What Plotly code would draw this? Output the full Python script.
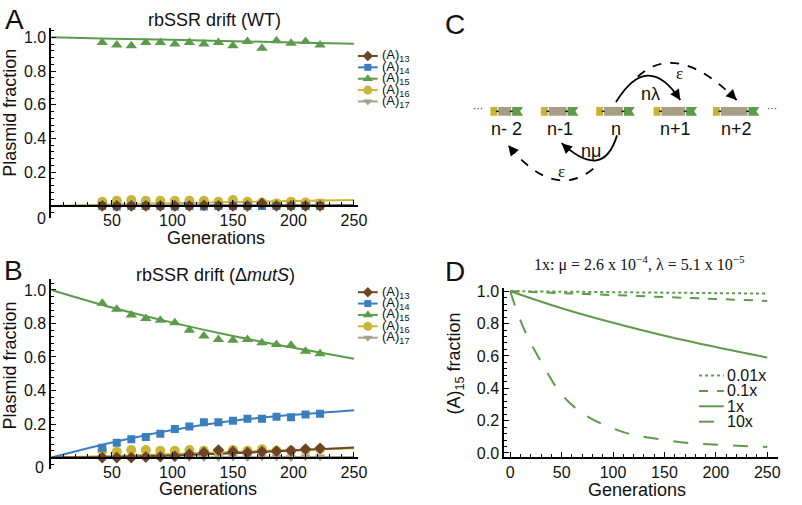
import plotly.graph_objects as go

W, H = 802, 505
SANS = "Liberation Sans, Arial, Helvetica, sans-serif"
SERIF = "Liberation Serif, Times New Roman, serif"

# ---------------- data ----------------
series_names = ["(A)<sub>13</sub>", "(A)<sub>14</sub>", "(A)<sub>15</sub>", "(A)<sub>16</sub>", "(A)<sub>17</sub>"]
gens = [42, 54, 66, 78, 90, 102, 114, 126, 138, 150, 162, 174, 186, 198, 210, 222]
fit_x = [0, 50, 100, 150, 200, 250]

# Panel A: WT
wt_a13 = [0.0, 0.0, 0.0, 0.0, 0.0, 0.0, 0.0, 0.004, 0.0, 0.0, 0.0, 0.015, 0.0, 0.0, 0.0, 0.0]
wt_a14 = [0.0, -0.003, 0.0, 0.0, 0.0, -0.003, 0.0, -0.003, 0.0, 0.0, 0.0, 0.0, 0.0, 0.0, 0.0, 0.0]
wt_a15 = [0.97, 0.955, 0.95, 0.97, 0.97, 0.96, 0.97, 0.96, 0.97, 0.95, 0.975, 0.935, 0.98, 0.965, 0.975, 0.955]
wt_a16 = [0.025, 0.03, 0.035, 0.03, 0.03, 0.03, 0.03, 0.03, 0.025, 0.035, 0.025, 0.02, 0.015, 0.025, 0.02, 0.015]
wt_a17 = [0.0, 0.0, 0.0, 0.0, 0.0, 0.0, 0.0, 0.0, 0.0, 0.0, 0.0, 0.0, 0.0, 0.0, 0.0, 0.025]
wt_fit13 = [0.0, 0.0, 0.0, 0.001, 0.002, 0.003]
wt_fit14 = [0.0, 0.001, 0.002, 0.002, 0.003, 0.003]
wt_fit15 = [1.0, 0.992, 0.985, 0.977, 0.970, 0.962]
wt_fit16 = [0.0, 0.008, 0.016, 0.023, 0.029, 0.035]
wt_fit17 = [0.0, 0.0, 0.001, 0.001, 0.001, 0.002]

# Panel B: delta mutS
mu_a13 = [0.0, 0.0, 0.0, 0.003, 0.005, 0.008, 0.02, 0.03, 0.045, 0.035, 0.03, 0.035, 0.038, 0.042, 0.05, 0.055]
mu_a14 = [0.058, 0.088, 0.11, 0.123, 0.142, 0.17, 0.185, 0.21, 0.21, 0.22, 0.232, 0.232, 0.243, 0.24, 0.257, 0.262]
mu_a15 = [0.92, 0.885, 0.85, 0.83, 0.82, 0.805, 0.76, 0.725, 0.705, 0.70, 0.705, 0.685, 0.675, 0.67, 0.635, 0.62]
mu_a16 = [0.04, 0.035, 0.045, 0.045, 0.04, 0.04, 0.045, 0.04, 0.035, 0.045, 0.04, 0.05, 0.04, 0.04, 0.045, 0.05]
mu_a17 = [0.0, 0.0, 0.0, 0.0, 0.0, 0.0, 0.0, 0.0, 0.0, 0.003, 0.0, 0.003, 0.003, 0.0, 0.005, 0.005]
mu_fit13 = [0.0, 0.004, 0.013, 0.026, 0.042, 0.06]
mu_fit14 = [0.0, 0.09, 0.165, 0.22, 0.255, 0.283]
mu_fit15 = [1.0, 0.895, 0.805, 0.725, 0.655, 0.59]
mu_fit16 = [0.0, 0.01, 0.022, 0.034, 0.045, 0.055]
mu_fit17 = [0.0, 0.0, 0.001, 0.002, 0.003, 0.004]

# Panel D: model curves for (A)15
d_x = [0, 50, 100, 150, 200, 250]
d_001 = [1.0, 0.997, 0.994, 0.991, 0.988, 0.985]
d_01 = [1.0, 0.988, 0.976, 0.964, 0.952, 0.94]
d_1 = [1.0, 0.895, 0.805, 0.725, 0.655, 0.59]
d10_x = [0, 8, 16, 33, 49, 65, 81, 113, 145, 177, 209, 250]
d_10 = [1.0, 0.85, 0.73, 0.53, 0.37, 0.27, 0.205, 0.123, 0.085, 0.06, 0.048, 0.037]
d_names = ["0.01x", "0.1x", "1x", "10x"]

# Panel C: schematic constructs
c_labels = ["n- 2", "n-1", "n", "n+1", "n+2"]
c_left = [496, 547, 603, 661, 721]
c_gray_w = [14, 19, 20, 25, 28]

# ---------------- style ----------------
colors = ["#6B4426", "#3B7EBF", "#5B9B4A", "#C9B53A", "#A79E8B"]
symbols = ["diamond", "square", "triangle-up", "circle", "triangle-down"]
msizes = [9, 8, 10, 10, 9]
GREEN = "#5E9A4C"


def fx(px):
    return px / W


def fy(py):
    return 1 - py / H


fig = go.Figure()


def add_panel(xa, ya, fits, pts):
    for i in reversed(range(5)):
        fig.add_trace(go.Scatter(x=fit_x, y=fits[i], mode="lines", line=dict(color=colors[i], width=2, shape="spline"),
                                 xaxis=xa, yaxis=ya, showlegend=False, hoverinfo="skip"))
    for i in reversed(range(5)):
        fig.add_trace(go.Scatter(x=gens, y=pts[i], mode="markers",
                                 marker=dict(symbol=symbols[i], size=msizes[i], color=colors[i], line=dict(width=0)),
                                 xaxis=xa, yaxis=ya, showlegend=False, hoverinfo="skip"))


add_panel("x", "y", [wt_fit13, wt_fit14, wt_fit15, wt_fit16, wt_fit17], [wt_a13, wt_a14, wt_a15, wt_a16, wt_a17])
add_panel("x2", "y2", [mu_fit13, mu_fit14, mu_fit15, mu_fit16, mu_fit17], [mu_a13, mu_a14, mu_a15, mu_a16, mu_a17])

# Panel D curves
dashes = ["dot", "dash", "solid", "longdash"]
for xs, ys, dsh in [(d_x, d_001, dashes[0]), (d_x, d_01, dashes[1]), (d_x, d_1, dashes[2]), (d10_x, d_10, dashes[3])]:
    fig.add_trace(go.Scatter(x=xs, y=ys, mode="lines", line=dict(color=GREEN, width=2, dash=dsh, shape="spline"),
                             xaxis="x3", yaxis="y3", showlegend=False, hoverinfo="skip"))

# ---- custom legends on overlay pixel axis (x4/y4) ----
annotations = []
shapes = []


def ann(x, y, text, size=16, family=SANS, xanchor="center", yanchor="middle", angle=0, color="#111"):
    annotations.append(dict(x=x, y=y, xref="x4", yref="y4", text=text, showarrow=False, xanchor=xanchor,
                            yanchor=yanchor, textangle=angle, font=dict(family=family, size=size, color=color)))


for top in [52, 293]:
    for i in range(5):
        yy = top + 11.6 * i
        fig.add_trace(go.Scatter(x=[362, 382], y=[yy, yy], mode="lines", line=dict(color=colors[i], width=2),
                                 xaxis="x4", yaxis="y4", showlegend=False, hoverinfo="skip"))
        fig.add_trace(go.Scatter(x=[372], y=[yy], mode="markers",
                                 marker=dict(symbol=symbols[i], size=msizes[i] - 1, color=colors[i]),
                                 xaxis="x4", yaxis="y4", showlegend=False, hoverinfo="skip"))
        ann(384, yy, series_names[i], size=13, xanchor="left")

for i, nm in enumerate(d_names):
    yy = 378 + 15.7 * i
    fig.add_trace(go.Scatter(x=[707, 732], y=[yy, yy], mode="lines", line=dict(color=GREEN, width=2, dash=dashes[i]),
                             xaxis="x4", yaxis="y4", showlegend=False, hoverinfo="skip"))
    ann(733, yy, nm, size=16, xanchor="left")

# ---- texts ----
ann(15, 15, "A", size=28)
ann(14, 271, "B", size=28)
ann(460, 20, "C", size=28)
ann(460, 272, "D", size=28)
ann(217, 15, "rbSSR drift (WT)", size=18)
ann(218, 275, "rbSSR drift (Δ<i>mutS</i>)", size=18)
ann(10, 110, "Plasmid fraction", size=18, angle=-90)
ann(10, 368, "Plasmid fraction", size=18, angle=-90)
ann(218, 238, "Generations", size=18)
ann(210, 494, "Generations", size=18)
ann(42, 218, "0", size=16)
ann(40, 472, "0", size=16)
ann(647, 264, "1x: μ = 2.6 x 10<sup>−4</sup>, λ = 5.1 x 10<sup>−5</sup>", size=16, family=SERIF)
ann(461, 366, "(A)<sub>15</sub> fraction", size=18, angle=-90)
ann(644, 495, "Generations", size=18)

# ---- panel C schematic ----
YEL, GRY, GRN = "#C9B336", "#A89E86", "#5E9B4A"
y0, y1 = 104, 113
for lab, left, gw in zip(c_labels, c_left, c_gray_w):
    xg0 = left + 7
    xg1 = xg0 + gw
    xe = xg1 + 12
    shapes.append(dict(type="rect", xref="x4", yref="y4", x0=left, x1=xg0, y0=y0, y1=y1, fillcolor=YEL, line=dict(width=0)))
    shapes.append(dict(type="rect", xref="x4", yref="y4", x0=xg0 + 1, x1=xg1, y0=y0, y1=y1, fillcolor=GRY, line=dict(width=0)))
    shapes.append(dict(type="path", xref="x4", yref="y4",
                       path=f"M {xg1+1} {y0} L {xe} {y0} L {xe-3} {(y0+y1)/2} L {xe} {y1} L {xg1+1} {y1} Z",
                       fillcolor=GRN, line=dict(width=0)))
    for xb in (xg0, xg1):
        shapes.append(dict(type="line", xref="x4", yref="y4", x0=xb - 1.5, x1=xb + 1.5, y0=(y0 + y1) / 2,
                           y1=(y0 + y1) / 2, line=dict(color="#222", width=1.5)))
    ann((left + xe) / 2, 127, lab, size=18)
ann(483, 106, "···", size=10)
ann(781, 106, "···", size=10)


def arc(p0, c, p1, dash="solid"):
    shapes.append(dict(type="path", xref="x4", yref="y4",
                       path=f"M {p0[0]} {p0[1]} Q {c[0]} {c[1]} {p1[0]} {p1[1]}",
                       line=dict(color="black", width=1.8, dash=dash)))
    dx, dy = p1[0] - c[0], p1[1] - c[1]
    L = (dx * dx + dy * dy) ** 0.5
    annotations.append(dict(x=p1[0], y=p1[1], xref="x4", yref="y4", ax=p1[0] - 5 * dx / L, ay=p1[1] - 5 * dy / L,
                            axref="x4", ayref="y4", text="", showarrow=True, arrowhead=2, arrowsize=1.3,
                            arrowwidth=1.6, arrowcolor="black"))


arc((623, 99), (655, 46), (688, 97))
arc((645, 73), (685, 36), (745, 97), dash="dash")
arc((624, 133), (610, 180), (568, 141))
arc((600, 167), (560, 200), (514, 143), dash="dash")
ann(658, 91, "nλ", size=18)
ann(687, 70, "ε", size=17, family=SERIF)
ann(598, 149, "nμ", size=18)
ann(568, 170, "ε", size=17, family=SERIF)

# ---------------- axes ----------------
axis_common = dict(showgrid=False, zeroline=False, showline=True, linecolor="black", linewidth=2,
                   ticks="inside", tickcolor="black", tickwidth=1.3, ticklen=5,
                   tickfont=dict(family=SANS, size=16, color="#111"))

yA = dict(tickvals=[0.2, 0.4, 0.6, 0.8, 1.0], tickformat=".1f",
          minor=dict(ticks="inside", ticklen=2.5, dtick=0.04, tick0=0, tickcolor="black", showgrid=False))
xA = dict(tickvals=[50, 100, 150, 200, 250],
          minor=dict(ticks="inside", ticklen=2.5, dtick=10, tick0=0, tickcolor="black", showgrid=False))

fig.update_layout(
    width=W, height=H, margin=dict(l=0, r=0, t=0, b=0),
    paper_bgcolor="white", plot_bgcolor="rgba(0,0,0,0)", showlegend=False,
    xaxis=dict(domain=[fx(52), fx(362)], range=[0, 253.3], anchor="free", position=fy(205), **axis_common, **xA),
    yaxis=dict(domain=[fy(217), fy(23)], range=[-0.0698, 1.058], anchor="x", **axis_common, **yA),
    xaxis2=dict(domain=[fx(52), fx(362)], range=[0, 253.3], anchor="free", position=fy(461.7), **axis_common, **xA),
    yaxis2=dict(domain=[fy(473), fy(280)], range=[-0.066, 1.0626], anchor="x2", **axis_common, **yA),
    xaxis3=dict(domain=[fx(510), fx(787)], range=[-5.8, 260.6], anchor="y3", **axis_common,
                tickvals=[0, 50, 100, 150, 200, 250],
                minor=dict(ticks="inside", ticklen=2.5, dtick=10, tick0=0, tickcolor="black", showgrid=False)),
    yaxis3=dict(domain=[fy(461), fy(289)], range=[-0.024, 1.018], anchor="x3", **axis_common,
                tickvals=[0, 0.2, 0.4, 0.6, 0.8, 1.0], tickformat=".1f",
                minor=dict(ticks="inside", ticklen=2.5, dtick=0.04, tick0=0, tickcolor="black", showgrid=False)),
    xaxis4=dict(domain=[0, 1], range=[0, W], anchor="y4", visible=False, fixedrange=True),
    yaxis4=dict(domain=[0, 1], range=[H, 0], anchor="x4", visible=False, fixedrange=True),
    annotations=annotations, shapes=shapes,
)

fig.write_html("out.html", config={"displayModeBar": False},
               post_script="document.body.style.margin='0px';")
